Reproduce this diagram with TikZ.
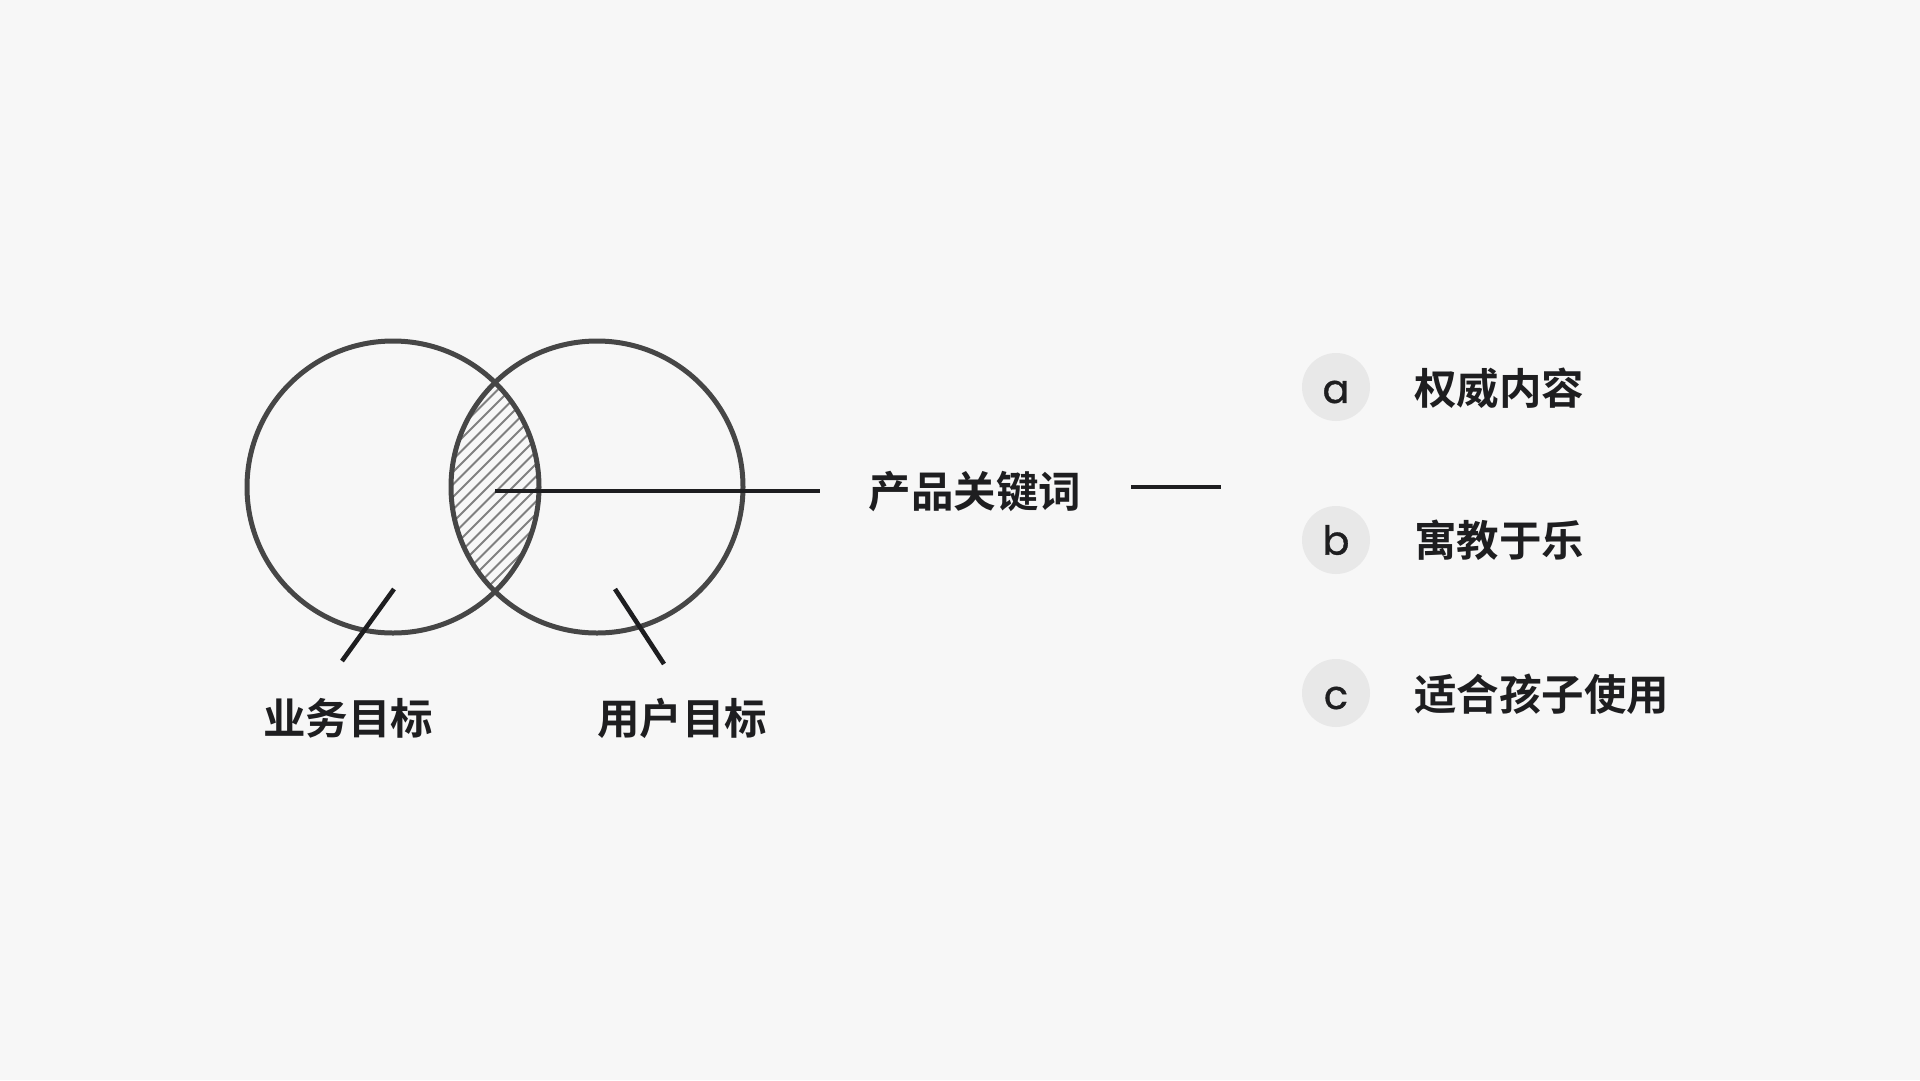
\documentclass[tikz,border=0pt]{standalone}
\usepackage{fontspec}
\setmainfont{Poppins}
\newfontfamily\cjk{Noto Sans CJK SC Bold}
\usetikzlibrary{positioning}
\definecolor{bgcol}{HTML}{F7F7F7}
\definecolor{ringcol}{HTML}{464646}
\definecolor{inkcol}{HTML}{1E1E20}
\definecolor{hatchcol}{HTML}{808080}
\definecolor{dotcol}{HTML}{E8E8E8}
\tikzset{
  goal/.style={circle,draw=ringcol,line width=5pt,minimum size=292pt,inner sep=0pt},
  label/.style={text=inkcol,font=\cjk\fontsize{42.5}{42.5}\selectfont,inner sep=0pt},
  badge/.style={circle,fill=dotcol,minimum size=68pt,inner sep=0pt},
  letter/.style={text=inkcol,font=\addfontfeature{FakeBold=0.8}\fontsize{40}{40}\selectfont},
  wire/.style={draw=inkcol,line width=4.6pt}
}

\begin{document}
\begin{tikzpicture}[x=1pt,y=-1pt]

\fill[bgcol] (0,0) rectangle (1920,1080);
\useasboundingbox (0,0) rectangle (1920,1080);

% hatched overlap
\begin{scope}
\clip (393,487) circle (146);
\clip (597,487) circle (146);
\foreach \i in {0,...,60}
  \draw[hatchcol,line width=2pt] (150+\i*12.5,700) -- ++(320,-320);
\end{scope}

\node [goal] (biz) at (393,487) {};
\node [goal] (usr) at (597,487) {};

\node [label] (bizlab) at (348,718) {业务目标};
\node [label] (usrlab) at (682,718) {用户目标};
\node [label] (kw) at (975,492) {产品关键词};

\coordinate (mid) at (495,491);
\coordinate (bizin) at (394,589);
\coordinate (bizout) at (342,661);
\coordinate (usrin) at (615,589);
\coordinate (usrout) at (664,664);
\coordinate (dashl) at (1131,487);
\coordinate (dashr) at (1221,487);

\begin{scope}[line cap=butt]
\draw[wire,shorten >=49pt] (mid) -- (kw.west |- mid);
\draw[wire] (bizin) -- (bizout);
\draw[wire] (usrin) -- (usrout);
\draw[wire] (dashl) -- (dashr);
\end{scope}

\node [badge] (a) at (1336,387) {};
\node [badge] (b) at (1336,540) {};
\node [badge] (c) at (1336,693) {};
\node [letter] at ([yshift=-5pt]a) {a};
\node [letter] at (b) {b};
\node [letter] at ([yshift=-5pt]c) {c};

\node [label,anchor=west] (ta) at (1414,388) {权威内容};
\node [label,anchor=west] (tb) at (1414,540) {寓教于乐};
\node [label,anchor=west] (tc) at (1414,694) {适合孩子使用};

\end{tikzpicture}
\end{document}
